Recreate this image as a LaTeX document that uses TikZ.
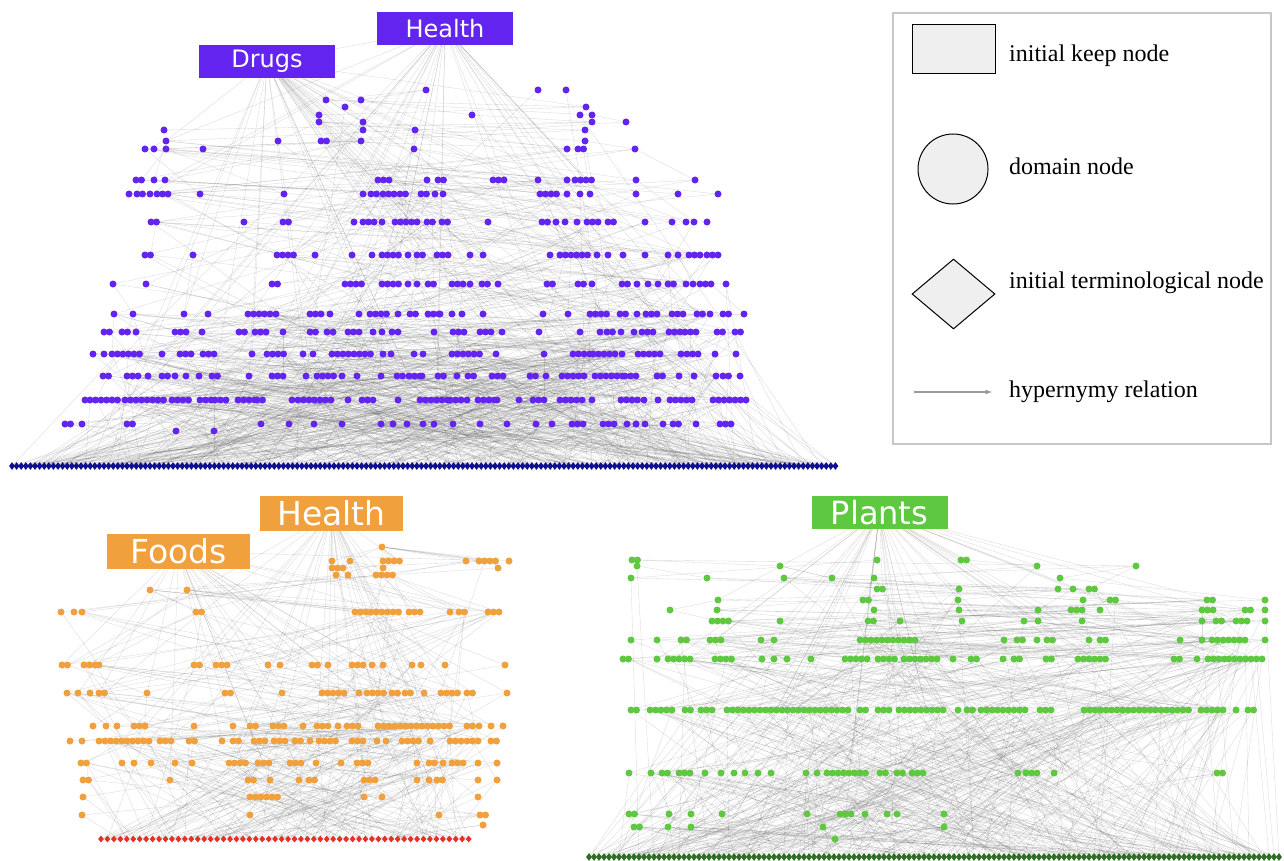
\documentclass[tikz,border=0pt]{standalone}
\usepackage{fontspec}
\setmainfont{Liberation Serif}
\newfontfamily\labfont{DejaVu Sans}
\usetikzlibrary{shapes.geometric,backgrounds}

\definecolor{drugblue}{RGB}{98,36,238}
\definecolor{termnavy}{RGB}{16,16,140}
\definecolor{foodorange}{RGB}{240,160,60}
\definecolor{termred}{RGB}{228,50,40}
\definecolor{plantgreen}{RGB}{94,200,64}
\definecolor{termgreen}{RGB}{45,110,35}
\definecolor{legfill}{RGB}{239,239,239}

% one row of domain nodes: prefix, colour, y, clusters x/count
\newcount\nd
\gdef\pairs{}
\newcommand\newpanel{\global\nd=0 \gdef\rowa{1}\gdef\rowb{1}}
\newcommand\dotrow[4]{%
  \edef\rowtop{\the\nd}%
  \pgfmathtruncatemacro\rowstart{\nd+1}%
  \foreach \x/\n in {#4}{%
    \pgfmathtruncatemacro\m{\x==\n ? 1 : \n}%
    \foreach \k in {1,...,\m}{%
      \global\advance\nd by 1
      \edef\nm{#1\the\nd}%
      \node[domdot=#2] (\nm) at (\x+5.5*\k-5.5,#3) {};
      \ifnum\rowtop>0
        \pgfmathrandominteger{\j}{\rowb}{\rowtop}%
        \ifx\pairs\empty \xdef\pairs{\nm/#1\j}\else \xdef\pairs{\pairs,\nm/#1\j}\fi
      \fi
    }}%
  \xdef\rowb{\rowa}\xdef\rowa{\rowstart}}

\begin{document}
\begin{tikzpicture}[x=1pt,y=-1pt,
    domdot/.style={circle,fill=#1,inner sep=0,minimum size=7},
    termdia/.style={diamond,fill=#1,inner sep=0,minimum width=6,minimum height=8},
    hyper/.style={draw=black!70,draw opacity=.2,line width=.35},
    domlabel/.style={fill=#1,text=white,inner sep=0,minimum width=136,minimum height=33,
      font=\labfont\fontsize{24}{24}\selectfont},
    biglabel/.style={domlabel=#1,minimum width=143,minimum height=35,
      font=\labfont\fontsize{33}{33}\selectfont},
    legtext/.style={anchor=base west,inner sep=0,font=\fontsize{24}{26}\selectfont}]
  \pgfmathsetseed{31}
  \begin{pgfonlayer}{background}
    \fill[white] (0,0) rectangle (1284,861);
  \end{pgfonlayer}
  \useasboundingbox (0,0) rectangle (1284,861);

  % Drugs and Health
  \node[domlabel=drugblue] (health1) at (445,28.5) {Health};
  \node[domlabel=drugblue] (drugs) at (267,61.5) {Drugs};
  \newpanel
  \dotrow{t}{drugblue}{90}{426,538,566}
  \dotrow{t}{drugblue}{100}{326,361}
  \dotrow{t}{drugblue}{107}{345,586}
  \dotrow{t}{drugblue}{115}{319,472,580,592}
  \dotrow{t}{drugblue}{122}{319,363,592,626}
  \dotrow{t}{drugblue}{130}{164,363,415,585}
  \dotrow{t}{drugblue}{141}{166,278,321/2,361,585}
  \dotrow{t}{drugblue}{149}{145,154,166,203,414,567,578/2,635}
  \dotrow{t}{drugblue}{180}{136/2,154,165,378/3,427,438/2,493/3,538,567,575/4,636,695}
  \dotrow{t}{drugblue}{194}{129,137/2,150,157/3,200,284,363,371/2,383/3,400/2,421/2,435,443,540/4,567,580,590,636,678,718}
  \dotrow{t}{drugblue}{222}{151/2,244,283/2,354,363/2,374,382,395/5,427/2,442/2,488,542/2,556,565,577,587/3,608/2,645,672,686,694,707}
  \dotrow{t}{drugblue}{255}{145/2,193,277/4,315,352,372,382/4,408,417/2,437/3,470,483,550,560/6,597,608,623,645,668,678,689/3,707/3}
  \dotrow{t}{drugblue}{284}{113,146,272/2,345/4,382/4,408,417,428/2,452/3,470,482/2,498,547/2,578/2,592,622/2,637,648,658,668/2,686,693,700/3,726}
  \dotrow{t}{drugblue}{314}{114,133,184,208,248/4,270,276,310/3,330,359,370/4,398,410/2,428/3,440,452,462,483,543,568,590/4,620/2,637,646/3,672/3,697/2,710,723/2,744}
  \dotrow{t}{drugblue}{332}{104/2,122/2,136,175/3,202,239/2,255/3,283,310/2,327,333,348/3,373,382,392,398,434,453/3,480/3,502,539,580,600,607/2,621,634,642/3,669/3,685/3,717/2,735/2}
  \dotrow{t}{drugblue}{354}{93,104,112/6,162,180/3,203/3,252,267/4,303,313,332/8,383,391,414,423,452/6,496,544,573/4,593/5,622,638/5,681,687/3,715,736}
  \dotrow{t}{drugblue}{376}{103/2,127/3,148,162/2,175,186,199,212/2,249,272/3,306,317/4,342,357,381,397/2,409/3,422,438/2,457,468/2,492/3,530/2,546,562/5,595/6,625/3,657/2,679,694,716,723/2,740}
  \dotrow{t}{drugblue}{400}{85,90/6,125/8,172/4,200/3,215/3,238/4,257/2,292,298/7,348,362/3,398,420/6,450/3,467,478/4,497,519,533/3,560/5,592,621/4,644,658,670/5,713/7}
  \dotrow{t}{drugblue}{424}{65/2,82,127/2,261,289,314,342,381,393,407,423,434,453,480,507,536,552,572/3,603/3,627,636,645,663,673/2,696,720/3}
  \dotrow{t}{drugblue}{431}{176,214}
  \edef\ntop{\the\nd}
  \pgfmathtruncatemacro\nhalf{\ntop/2}
  \foreach \i in {0,...,179}
    \node[termdia=termnavy] (ta\i) at (12+4.6*\i,466) {};
  \begin{pgfonlayer}{background}
    \foreach \i in {0,...,179}{
      \pgfmathrandominteger{\a}{\nhalf}{\ntop}
      \pgfmathrandominteger{\b}{\nhalf}{\ntop}
      \pgfmathrandominteger{\c}{1}{\ntop}
      \draw[hyper] (ta\i) -- (t\a) (ta\i) -- (t\b) (ta\i) -- (t\c);
    }
    \foreach \i in {1,...,40}{
      \pgfmathrandominteger{\a}{1}{\ntop}
      \draw[hyper] (drugs) -- (t\a);
    }
    \foreach \i in {1,...,30}{
      \pgfmathrandominteger{\a}{1}{\ntop}
      \draw[hyper] (health1) -- (t\a);
    }
    \draw[hyper] (drugs) -- (health1);
  \end{pgfonlayer}

  % Foods and Health
  \node[biglabel=foodorange] (health2) at (331.5,513.5) {Health};
  \node[biglabel=foodorange] (foods) at (178.5,551) {Foods};
  \newpanel
  \dotrow{o}{foodorange}{547}{382}
  \dotrow{o}{foodorange}{561}{332,350,383/4,466,479/4,509}
  \dotrow{o}{foodorange}{568}{332/3,383,498}
  \dotrow{o}{foodorange}{575}{336,348,376/4}
  \dotrow{o}{foodorange}{590}{150,187}
  \dotrow{o}{foodorange}{612}{61,74,82,196/2,355/3,371/6,409/3,450,459/2,488/3}
  \dotrow{o}{foodorange}{665}{62/2,84/3,99,194/2,216/3,268,280,312/2,328,352/3,372,383,412,421,445,505}
  \dotrow{o}{foodorange}{693}{67,78,90,99/2,147,225/2,282,322/5,359,367/4,392/2,405/2,424,441/4,467/2,507}
  \dotrow{o}{foodorange}{726}{93,106,117,134/3,194,233,250/2,273/3,303,317/3,338,347/3,378/14,467/2,479,491,503}
  \dotrow{o}{foodorange}{741}{70,82,99,105/9,160/3,189/2,222,233/2,254/3,274/3,295/2,310,319/4,352/3,377,386,402/4,430,450/3,467/3,491/2}
  \dotrow{o}{foodorange}{763}{81/2,122,134,151,175,192,229/4,258/3,290/3,316,341,357/3,417,429/2,443,452/3,478,497}
  \dotrow{o}{foodorange}{780}{83/2,170,248/2,270,299,309/2,364/3,417,429,437/2,478,497}
  \dotrow{o}{foodorange}{797}{83,250/6,364,382,478}
  \dotrow{o}{foodorange}{815}{82,250,439,480/2}
  \dotrow{o}{foodorange}{825}{483}
  \edef\nfood{\the\nd}
  \pgfmathtruncatemacro\nhalf{\nfood/2}
  \foreach \i in {0,...,57}
    \node[termdia=termred,minimum height=7] (oa\i) at (101+6.45*\i,839) {};
  \begin{pgfonlayer}{background}
    \foreach \i in {0,...,57}{
      \pgfmathrandominteger{\a}{\nhalf}{\nfood}
      \pgfmathrandominteger{\b}{\nhalf}{\nfood}
      \pgfmathrandominteger{\c}{1}{\nfood}
      \draw[hyper] (oa\i) -- (o\a) (oa\i) -- (o\b) (oa\i) -- (o\c);
    }
    \foreach \i in {1,...,25}{
      \pgfmathrandominteger{\a}{1}{\nfood}
      \draw[hyper] (foods) -- (o\a);
    }
    \foreach \i in {1,...,30}{
      \pgfmathrandominteger{\a}{1}{\nfood}
      \draw[hyper] (health2) -- (o\a);
    }
  \end{pgfonlayer}

  % Plants
  \node[domlabel=plantgreen,font=\labfont\fontsize{32}{32}\selectfont] (plants) at (879.5,512.5) {Plants};
  \newpanel
  \dotrow{g}{plantgreen}{560}{632/2,877,961/2}
  \dotrow{g}{plantgreen}{566}{637,780,1037,1136}
  \dotrow{g}{plantgreen}{578}{631,707,784,832,874,1060}
  \dotrow{g}{plantgreen}{589}{877/2,959,1058,1073,1089/2}
  \dotrow{g}{plantgreen}{600}{718,863/2,958,1083,1110/2,1207/2,1265}
  \dotrow{g}{plantgreen}{610}{670,717,874,959,1038,1071/3,1100,1202/3,1245/2,1265}
  \dotrow{g}{plantgreen}{621}{712/4,780,868/2,900,962,1024,1038,1082,1202,1216/2,1236/3,1265}
  \dotrow{g}{plantgreen}{640}{631,657,681/2,710/3,761,774,860/11,1004,1017/2,1037,1047/2,1089,1100/2,1180,1202,1212/7,1265}
  \dotrow{g}{plantgreen}{659}{623/2,657,668/5,715/4,762,774,787,811,845/5,878/4,904/7,953,971/2,1003,1014/2,1046/2,1078/6,1174/2,1197,1208/4,1229/7}
  \dotrow{g}{plantgreen}{710}{631/2,650/5,685/2,701/3,727/23,860/2,878/3,899/9,958,967/2,981/9,1040/3,1084/20,1201/5,1236,1248/2}
  \dotrow{g}{plantgreen}{773}{629,651,662/2,679/3,705,721,734,745,758,771,806,817,827/8,880/2,897/2,912/3,1018,1026/3,1054,1217/2}
  \dotrow{g}{plantgreen}{814}{629/2,669,691,722,807,840/3,865,887,897,944}
  \dotrow{g}{plantgreen}{827}{634/2,668,691,823,944}
  \dotrow{g}{plantgreen}{839}{835}
  \edef\nplant{\the\nd}
  \pgfmathtruncatemacro\nhalf{\nplant/2}
  \foreach \i in {0,...,138}
    \node[termdia=termgreen] (ga\i) at (589+5*\i,857) {};
  \begin{pgfonlayer}{background}
    \foreach \i in {0,...,138}{
      \pgfmathrandominteger{\a}{\nhalf}{\nplant}
      \pgfmathrandominteger{\b}{\nhalf}{\nplant}
      \pgfmathrandominteger{\c}{1}{\nplant}
      \draw[hyper] (ga\i) -- (g\a) (ga\i) -- (g\b) (ga\i) -- (g\c);
    }
    \foreach \i in {1,...,45}{
      \pgfmathrandominteger{\a}{1}{\nplant}
      \draw[hyper] (plants) -- (g\a);
    }
    % row to row hypernymy links
    \foreach \u/\v in \pairs
      \draw[hyper] (\u) -- (\v);
  \end{pgfonlayer}

  % legend
  \node[draw=black!22,line width=1.2,minimum width=378,minimum height=431,inner sep=0] (legend) at (1082,228.5) {};
  \node[draw,fill=legfill,line width=1,minimum width=83,minimum height=49,inner sep=0] (keyrect) at (953.5,49.5) {};
  \node[legtext] (keytext) at (1009,62) {initial keep node};
  \node[circle,draw,fill=legfill,line width=1,minimum size=70,inner sep=0] (domcirc) at (953,169) {};
  \node[legtext] (domtext) at (1009,175) {domain node};
  \node[diamond,draw,fill=legfill,line width=1,minimum width=83,minimum height=70,inner sep=0] (termdiam) at (953.5,294) {};
  \node[legtext] (termtext) at (1009,288) {initial terminological node};
  \coordinate (hyps) at (914,392);
  \coordinate (hype) at (992,392);
  \draw[black!40,line width=1.2,-latex] (hyps) -- (hype);
  \node[legtext] (hyptext) at (1009,397) {hypernymy relation};
\end{tikzpicture}
\end{document}
